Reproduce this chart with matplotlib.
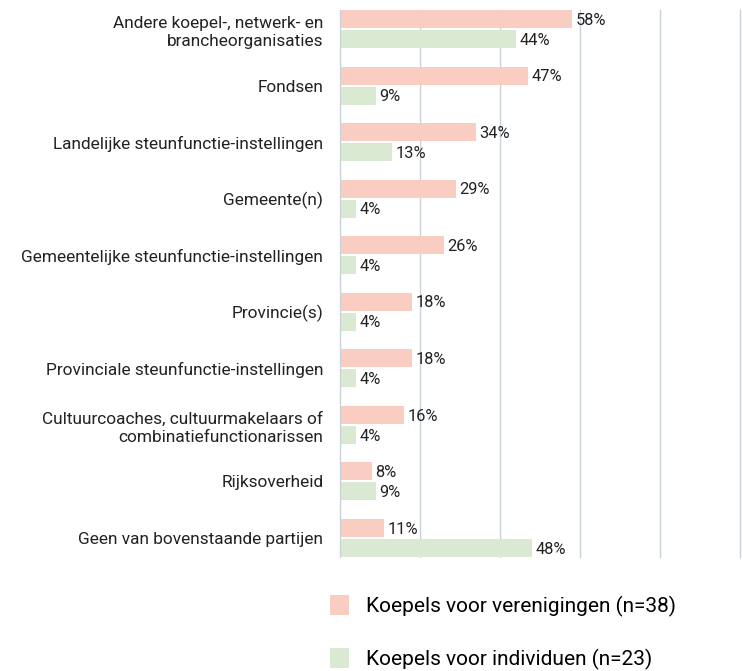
import numpy as np
import matplotlib
matplotlib.use("Agg")
import matplotlib.pyplot as plt
from matplotlib.patches import Patch

categories = [
    "Andere koepel-, netwerk- en\nbrancheorganisaties",
    "Fondsen",
    "Landelijke steunfunctie-instellingen",
    "Gemeente(n)",
    "Gemeentelijke steunfunctie-instellingen",
    "Provincie(s)",
    "Provinciale steunfunctie-instellingen",
    "Cultuurcoaches, cultuurmakelaars of\ncombinatiefunctionarissen",
    "Rijksoverheid",
    "Geen van bovenstaande partijen",
]
verenigingen = [58, 47, 34, 29, 26, 18, 18, 16, 8, 11]
individuen = [44, 9, 13, 4, 4, 4, 4, 4, 9, 48]
series_names = ["Koepels voor verenigingen (n=38)", "Koepels voor individuen (n=23)"]

pink = "#f9cdc2"
green = "#d9e9d2"
grid_col = "#c9d3dc"

plt.rcParams['font.family'] = ['Roboto', 'DejaVu Sans']

fig = plt.figure(figsize=(7.42, 6.71), dpi=100)
ax = fig.add_axes([340/742, 1-557/671, 400/742, 547/671])

y = np.arange(len(categories))
h = 0.318
off = 0.177
ax.barh(y - off, verenigingen, height=h, color=pink, zorder=2)
ax.barh(y + off, individuen, height=h, color=green, zorder=2)

for yi, v in zip(y, verenigingen):
    ax.text(v + 0.9, yi - off + 0.02, f"{v}%", va="center", ha="left", fontsize=11.8, color="#222222", zorder=3)
for yi, v in zip(y, individuen):
    ax.text(v + 0.9, yi + off + 0.02, f"{v}%", va="center", ha="left", fontsize=11.8, color="#222222", zorder=3)

ax.set_xlim(0, 100)
ax.set_ylim(9 + 0.336, -0.336)
ax.set_yticks(y)
ax.set_yticklabels(categories, fontsize=12.4, color="#222222", linespacing=1.3)
ax.tick_params(axis="y", length=0, pad=12)
ax.set_xticks([])
for gx in [20, 40, 60, 80, 100]:
    ax.axvline(gx, color=grid_col, linewidth=1, zorder=0, clip_on=False)
for s in ["top", "right", "bottom"]:
    ax.spines[s].set_visible(False)
ax.spines["left"].set_color(grid_col)
ax.spines["left"].set_linewidth(1)

handles = [Patch(facecolor=pink, edgecolor="none"), Patch(facecolor=green, edgecolor="none")]
fig.legend(handles, series_names, loc="upper left", bbox_to_anchor=(322/742, 1-587/671),
           frameon=False, fontsize=15, handlelength=0.9, handleheight=1.1,
           labelspacing=1.5, handletextpad=0.8, borderaxespad=0)

fig.savefig("out.png", dpi=100, facecolor="white")
